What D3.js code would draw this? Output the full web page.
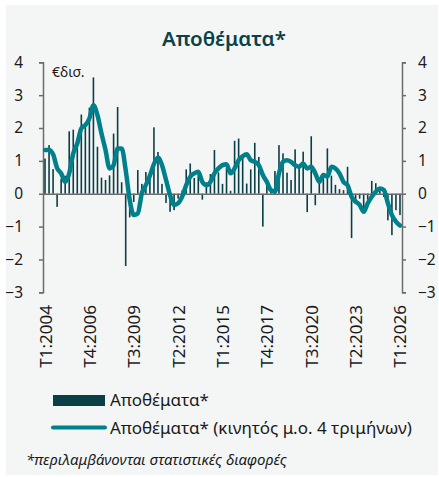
<!DOCTYPE html>
<html>
<head>
<meta charset="utf-8">
<script src="https://cdn.jsdelivr.net/npm/d3@7"></script>
<style>
  body { margin: 0; background: #fff; }
  svg { display: block; }
</style>
</head>
<body>
<div id="chart"></div>
<script>
// τριμηνιαία δεδομένα T1:2004 - T1:2026
const years = d3.range(2004, 2027);
const quarters = [];
years.forEach(y => [1, 2, 3, 4].forEach(q => quarters.push(`T${q}:${y}`)));
quarters.splice(89); // μέχρι T1:2026

const inventories = [
  1.07, 1.48, 0.75, -0.40, 0.45, 0.55, 1.90, 1.95, 1.55, 2.41,
  2.09, 2.62, 3.54, 1.43, 0.49, 0.42, 0.56, 1.83, 2.64, 0.35,
  -2.20, -0.72, -0.25, 0.72, 0.30, 0.66, 0.45, 2.02, 1.27, 0.30,
  -0.28, -0.55, -0.50, -0.15, 0.10, 0.74, 0.92, 0.48, 0.60, -0.18,
  0.35, 0.60, 1.33, 0.65, 0.30, 0.78, 0.09, 1.61, 1.68, 1.15,
  0.31, 0.74, 1.55, 1.12, -1.00, 0.30, 0.10, 0.69, 1.48, 1.23,
  0.64, 0.42, 1.35, 0.87, 1.28, -0.56, 1.75, -0.35, 0.38, 0.60,
  1.38, 0.55, 0.27, 0.14, 0.11, 0.82, -1.35, -0.30, -0.15, -0.45,
  -0.18, 0.39, 0.32, 0.10, -0.10, -0.81, -1.26, -0.50, -0.65
];

const movingAvg = [
  1.33, 1.33, 1.20, 0.78, 0.62, 0.36, 0.62, 1.23, 1.53, 1.99,
  2.09, 2.29, 2.69, 2.39, 1.83, 1.33, 0.77, 0.87, 1.38, 1.38,
  0.72, -0.19, -0.65, -0.60, 0.01, 0.26, 0.55, 0.90, 1.10, 0.87,
  0.42, -0.04, -0.34, -0.29, -0.09, 0.26, 0.52, 0.62, 0.67, 0.36,
  0.26, 0.36, 0.62, 0.77, 0.87, 0.90, 0.62, 0.77, 1.02, 1.14,
  1.20, 1.02, 0.97, 0.87, 0.57, 0.36, 0.11, 0.06, 0.62, 0.97,
  1.02, 0.97, 0.87, 0.82, 0.92, 0.77, 0.82, 0.62, 0.36, 0.57,
  0.52, 0.82, 0.77, 0.62, 0.36, 0.26, -0.09, -0.24, -0.34, -0.55,
  -0.29, -0.09, 0.06, 0.16, 0.11, -0.29, -0.65, -0.85, -0.97
];

const xTickLabels = ["T1:2004", "T4:2006", "T3:2009", "T2:2012", "T1:2015",
  "T4:2017", "T3:2020", "T2:2023", "T1:2026"];
const yTicks = [-3, -2, -1, 0, 1, 2, 3, 4];

const width = 439, height = 477;
const barColor = "#0b3f46", lineColor = "#00808a", axisColor = "#6b6b6b";
const font = "'Noto Sans', 'Open Sans', sans-serif";

const svg = d3.select("#chart")
  .append("svg")
  .attr("width", width)
  .attr("height", height);

// φόντο
svg.append("rect")
  .attr("x", 6).attr("y", 5)
  .attr("width", 432).attr("height", 470)
  .attr("fill", "#f4f6f6");

// τίτλος
svg.append("text")
  .attr("x", 224).attr("y", 46)
  .attr("text-anchor", "middle")
  .style("font-family", font)
  .style("font-weight", 600)
  .style("font-size", "20.5px")
  .style("fill", "#0b4148")
  .text("Αποθέματα*");

// κλίμακες
const xScale = d3.scaleBand()
  .domain(quarters)
  .range([43, 402])
  .padding(0);

const yScale = d3.scaleLinear()
  .domain([-3, 4])
  .range([292.3, 62.3]);

const cx = d => xScale(d) + xScale.bandwidth() / 2;

// άξονες
const yAxisLeft = d3.axisLeft(yScale).tickValues(yTicks).tickFormat(d3.format("d"))
  .tickSize(4).tickPadding(16);
const yAxisRight = d3.axisRight(yScale).tickValues(yTicks).tickFormat(d3.format("d"))
  .tickSize(4).tickPadding(12);

[["left", yAxisLeft, 43], ["right", yAxisRight, 402]].forEach(([cls, ax, x]) => {
  const g = svg.append("g")
    .attr("class", `y-axis-${cls}`)
    .attr("transform", `translate(${x},0)`)
    .call(ax);
  g.select(".domain").attr("stroke", axisColor).attr("stroke-width", 1.5);
  g.selectAll(".tick line").attr("stroke", axisColor).attr("stroke-width", 1.5);
  g.selectAll("text")
    .style("font-family", font)
    .style("font-size", "15.5px")
    .style("fill", "#1a1a1a");
});

// μπάρες
svg.append("g")
  .selectAll("rect")
  .data(inventories)
  .enter()
  .append("rect")
  .attr("x", (d, i) => cx(quarters[i]) - 0.8)
  .attr("width", 1.6)
  .attr("y", d => yScale(Math.max(0, d)))
  .attr("height", d => Math.abs(yScale(d) - yScale(0)))
  .attr("fill", barColor);

// οριζόντιος άξονας στο μηδέν
const xAxis = d3.axisBottom(xScale).tickValues([]).tickSize(0);
svg.append("g")
  .attr("class", "x-axis")
  .attr("transform", `translate(0,${yScale(0)})`)
  .call(xAxis)
  .select(".domain")
  .attr("stroke", axisColor)
  .attr("stroke-width", 1.5);

// ετικέτες τριμήνων
svg.append("g")
  .selectAll("text")
  .data(xTickLabels)
  .enter()
  .append("text")
  .attr("transform", d => `translate(${cx(d) + 6.5},305) rotate(-90)`)
  .attr("text-anchor", "end")
  .style("font-family", font)
  .style("font-size", "17px")
  .style("fill", "#1a1a1a")
  .text(d => d);

// κινητός μέσος όρος
const line = d3.line()
  .x((d, i) => cx(quarters[i]))
  .y(d => yScale(d))
  .curve(d3.curveMonotoneX);

svg.append("path")
  .datum(movingAvg)
  .attr("d", line)
  .attr("fill", "none")
  .attr("stroke", lineColor)
  .attr("stroke-width", 4.5)
  .attr("stroke-linejoin", "round")
  .attr("stroke-linecap", "round");

// μονάδα
svg.append("text")
  .attr("x", 52).attr("y", 77)
  .style("font-family", font)
  .style("font-size", "14px")
  .style("fill", "#1a1a1a")
  .text("€δισ.");

// υπόμνημα
const legend = svg.append("g")
  .style("font-family", font)
  .style("font-size", "17px")
  .style("fill", "#1a1a1a");

legend.append("rect")
  .attr("x", 53).attr("y", 395)
  .attr("width", 52).attr("height", 11)
  .attr("fill", barColor);
legend.append("text")
  .attr("x", 110).attr("y", 406)
  .text("Αποθέματα*");

legend.append("line")
  .attr("x1", 53).attr("x2", 105)
  .attr("y1", 427.5).attr("y2", 427.5)
  .attr("stroke", lineColor)
  .attr("stroke-width", 4)
  .attr("stroke-linecap", "round");
legend.append("text")
  .attr("x", 110).attr("y", 433.5)
  .text("Αποθέματα* (κινητός μ.ο. 4 τριμήνων)");

// υποσημείωση
svg.append("text")
  .attr("x", 26).attr("y", 465)
  .style("font-family", font)
  .style("font-style", "italic")
  .style("font-size", "15px")
  .style("fill", "#1a1a1a")
  .text("*περιλαμβάνονται στατιστικές διαφορές");
</script>
</body>
</html>
